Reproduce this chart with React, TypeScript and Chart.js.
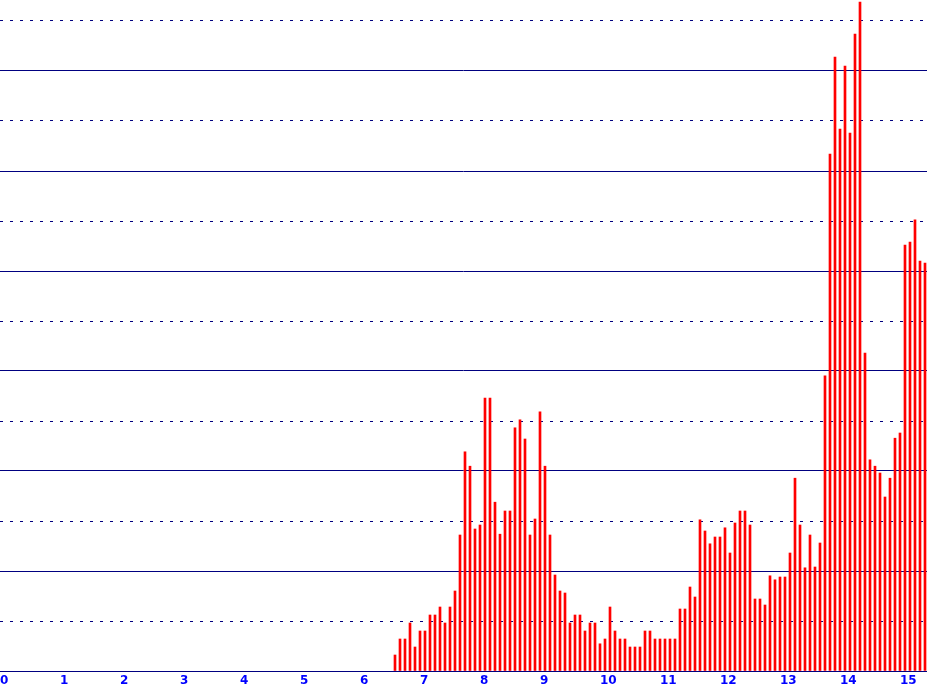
import { useEffect, useRef } from "react";
import { Chart, registerables } from "chart.js";

Chart.register(...registerables);

// 5-minute bins; first bin starts at minute 395 (6:35)
const FIRST_BIN_MINUTE = 395;
const BIN_MINUTES = 5;

const counts: number[] = [
  2, 4, 4, 6, 3, 5, 5, 7, 7, 8, 6, 8, 10, 17, 27.4, 25.6, 17.75,
  18.25, 34.1, 34.1, 21.1, 17.1, 20, 20, 30.4, 31.4, 29, 17, 19, 32.4, 25.6, 17, 12, 10, 9.75, 6,
  7, 7, 5, 6, 6, 3.4, 4, 8, 5, 4, 4, 3, 3, 3, 5, 5, 4, 4, 4, 4, 4,
  7.75, 7.75, 10.5, 9.25, 18.9, 17.5, 15.9, 16.75, 16.75, 17.9, 14.75, 18.5, 20, 20, 18.25, 9, 9, 8.25, 11.9, 11.4, 11.75,
  11.75, 14.75, 24.1, 18.25, 12.9, 17, 13, 16, 36.9, 64.6, 76.75, 67.75, 75.6, 67.25, 79.6, 83.6,
  39.75, 26.4, 25.6, 24.75, 21.75, 24.1, 29.1, 29.75, 53.25, 53.6, 56.4, 51.25, 51,
];

const hourLabels = ["0", "1", "2", "3", "4", "5", "6", "7", "8", "9", "10", "11", "12", "13", "14", "15"];

const X_MAX_HOURS = 15.45;
const Y_MAX = 83.875;
const Y_STEP = 6.25;

const GRID = "#000080";
const LABEL = "#0000ff";
const RED = "#ff0000";

export default function App() {
  const ref = useRef<HTMLCanvasElement | null>(null);

  useEffect(() => {
    if (!ref.current) return;
    const data = counts.map((c, i) => ({
      x: (FIRST_BIN_MINUTE + i * BIN_MINUTES) / 60,
      y: c,
    }));
    const chart = new Chart(ref.current, {
      type: "bar",
      data: {
        datasets: [
          {
            data,
            backgroundColor: RED,
            borderWidth: 0,
            barThickness: 2,
          } as any,
        ],
      },
      options: {
        animation: false,
        responsive: false,
        devicePixelRatio: 1,
        layout: { padding: 0 },
        plugins: {
          legend: { display: false },
          tooltip: { enabled: false },
          title: { display: false },
        },
        scales: {
          x: {
            type: "linear",
            min: 0,
            max: X_MAX_HOURS,
            offset: false,
            grid: { display: false, drawTicks: false },
            border: { display: true, color: GRID, width: 1 },
            ticks: {
              stepSize: 1,
              includeBounds: false,
              autoSkip: false,
              maxRotation: 0,
              minRotation: 0,
              align: "start",
              padding: 3,
              color: LABEL,
              font: { family: "DejaVu Sans", size: 12, weight: "bold" },
              callback: (v: any) => hourLabels[Number(v)] ?? "",
            },
            afterFit: (s: any) => {
              s.height = 20;
              s.paddingLeft = 0;
              s.paddingRight = 0;
            },
          },
          y: {
            type: "linear",
            min: 0,
            max: Y_MAX,
            grid: { display: true, color: GRID, lineWidth: 1, drawTicks: false },
            border: {
              display: false,
              dash: (ctx: any) => (ctx.index % 2 === 1 ? [3, 7] : []),
            },
            ticks: { display: false, stepSize: Y_STEP, includeBounds: false },
            afterFit: (s: any) => {
              s.width = 0;
              s.paddingTop = 0;
              s.paddingBottom = 0;
            },
          },
        },
      } as any,
    });
    return () => chart.destroy();
  }, []);

  return (
    <div style={{ position: "fixed", left: 0, top: 0, width: 927, height: 691, background: "#fff" }}>
      <canvas ref={ref} width={927} height={691} style={{ display: "block" }} />
    </div>
  );
}
